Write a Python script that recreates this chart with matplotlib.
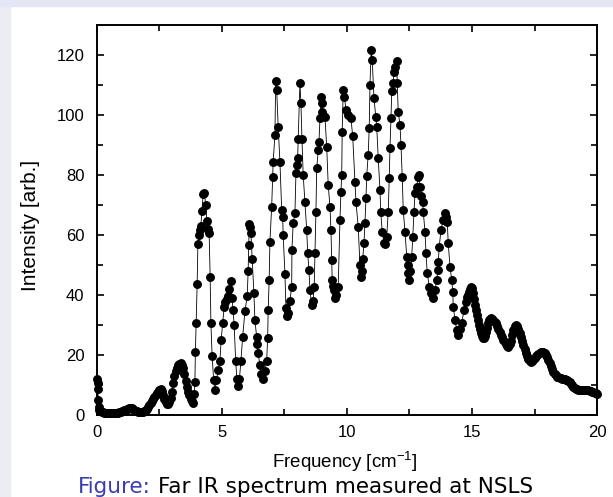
import matplotlib.pyplot as plt
from matplotlib.patches import Rectangle

# far IR spectrum
freq = [0.02, 0.03, 0.04, 0.06, 0.08, 0.1, 0.15, 0.2, 0.25, 0.3, 0.35, 0.4, 0.45, 0.5,
        0.55, 0.6, 0.65, 0.7, 0.75, 0.8, 0.85, 0.9, 0.95, 1.0, 1.05, 1.1, 1.15, 1.2, 1.25,
        1.3, 1.35, 1.4, 1.45, 1.5, 1.55, 1.6, 1.65, 1.7, 1.75, 1.8, 1.85, 1.9, 1.95, 2.0,
        2.05, 2.1, 2.15, 2.2, 2.25, 2.3, 2.35, 2.4, 2.45, 2.5, 2.55, 2.6, 2.65, 2.7, 2.75,
        2.8, 2.85, 2.9, 2.95, 3.0, 3.05, 3.1, 3.15, 3.2, 3.25, 3.3, 3.35, 3.4, 3.45, 3.5,
        3.55, 3.6, 3.65, 3.7, 3.75, 3.8, 3.85, 3.9, 3.92, 3.94, 3.97, 4.01, 4.04, 4.08,
        4.12, 4.16, 4.2, 4.25, 4.3, 4.35, 4.4, 4.45, 4.49, 4.53, 4.56, 4.61, 4.67, 4.72,
        4.78, 4.85, 4.92, 4.97, 5.03, 5.09, 5.14, 5.19, 5.25, 5.3, 5.36, 5.41, 5.45, 5.49,
        5.55, 5.6, 5.65, 5.7, 5.76, 5.83, 5.92, 6.01, 6.05, 6.07, 6.1, 6.13, 6.16, 6.21,
        6.28, 6.32, 6.39, 6.41, 6.45, 6.52, 6.58, 6.65, 6.72, 6.79, 6.83, 6.85, 6.89, 6.92,
        6.99, 7.03, 7.05, 7.12, 7.15, 7.19, 7.25, 7.32, 7.39, 7.43, 7.45, 7.52, 7.56, 7.61,
        7.65, 7.72, 7.79, 7.8, 7.85, 7.92, 7.96, 7.99, 8.03, 8.05, 8.12, 8.16, 8.2, 8.25,
        8.32, 8.39, 8.43, 8.48, 8.52, 8.59, 8.64, 8.69, 8.72, 8.76, 8.79, 8.85, 8.88, 8.92,
        8.96, 8.99, 9.01, 9.06, 9.12, 9.19, 9.25, 9.32, 9.36, 9.39, 9.41, 9.45, 9.49, 9.52,
        9.58, 9.65, 9.72, 9.76, 9.79, 9.81, 9.85, 9.9, 9.96, 10.05, 10.16, 10.23, 10.32,
        10.36, 10.45, 10.52, 10.55, 10.6, 10.63, 10.68, 10.72, 10.76, 10.79, 10.85, 10.89,
        10.92, 10.97, 11.01, 11.08, 11.15, 11.19, 11.25, 11.32, 11.35, 11.41, 11.48, 11.54,
        11.59, 11.65, 11.69, 11.72, 11.76, 11.79, 11.85, 11.88, 11.94, 11.99, 12.01, 12.05,
        12.12, 12.16, 12.21, 12.25, 12.32, 12.39, 12.43, 12.45, 12.47, 12.53, 12.59, 12.63,
        12.68, 12.72, 12.79, 12.85, 12.88, 12.92, 12.98, 13.03, 13.05, 13.12, 13.16, 13.21,
        13.29, 13.35, 13.43, 13.52, 13.59, 13.63, 13.65, 13.69, 13.76, 13.85, 13.92, 13.96,
        14.01, 14.05, 14.12, 14.19, 14.23, 14.25, 14.32, 14.39, 14.45, 14.52, 14.59, 14.68,
        14.74, 14.79, 14.82, 14.86, 14.9, 14.94, 14.98, 15.02, 15.06, 15.1, 15.14, 15.18,
        15.22, 15.26, 15.3, 15.34, 15.38, 15.42, 15.46, 15.5, 15.54, 15.58, 15.62, 15.66,
        15.7, 15.75, 15.8, 15.85, 15.9, 15.95, 16.0, 16.05, 16.1, 16.15, 16.2, 16.25, 16.3,
        16.35, 16.4, 16.45, 16.5, 16.55, 16.6, 16.65, 16.7, 16.75, 16.8, 16.85, 16.9, 16.95,
        17.0, 17.05, 17.1, 17.15, 17.2, 17.25, 17.3, 17.35, 17.4, 17.45, 17.5, 17.55, 17.6,
        17.65, 17.7, 17.75, 17.8, 17.85, 17.9, 17.95, 18.0, 18.05, 18.1, 18.15, 18.2, 18.25,
        18.3, 18.35, 18.4, 18.45, 18.5, 18.55, 18.6, 18.65, 18.7, 18.75, 18.8, 18.85, 18.9,
        18.95, 19.0, 19.05, 19.1, 19.15, 19.2, 19.25, 19.3, 19.35, 19.4, 19.45, 19.5, 19.55,
        19.6, 19.65, 19.7, 19.75, 19.8, 19.85, 19.9, 19.95, 20.0]

intensity = [12, 10.5, 8.5, 5, 2.5, 1.6, 1.2, 1.0, 0.9, 0.8, 0.7, 0.6, 0.5, 0.5,
             0.5, 0.5, 0.5, 0.6, 0.6, 0.7, 0.8, 0.9, 1.0, 1.2, 1.4, 1.6, 1.8, 2.0, 2.1,
             2.2, 2.3, 2.2, 2.0, 1.7, 1.4, 1.2, 1.0, 0.9, 0.9, 0.9, 1.0, 1.2, 1.5, 1.9,
             2.5, 3.2, 4.0, 4.8, 5.4, 6.0, 6.6, 7.2, 7.8, 8.3, 8.5, 8.0, 6.8, 5.3, 4.2,
             3.7, 3.6, 4.3, 5.8, 7.8, 10.5, 13, 14.8, 15.8, 16.5, 17, 17.3, 16.8, 15.7, 13.5,
             11.2, 9.3, 7.8, 6.6, 5.4, 4.5, 4.0, 7, 11, 21, 30.5, 43.5, 57, 60,
             61.5, 63, 68, 73.5, 74, 70, 64.5, 62, 60.5, 46, 30.5, 19.5, 11.7, 8.3,
             11.5, 15, 18, 25, 30.5, 36, 37.5, 38.5, 39.5, 42, 44.5, 39, 35, 30,
             18, 12, 9.5, 12, 18, 26, 34.5, 39.5, 48, 56.5, 63.5, 62.5, 60.5, 52,
             40.5, 31.5, 26, 23.5, 20.5, 16.5, 13.5, 12, 14.5, 18, 25.7, 35, 45, 57.8,
             69.4, 79.4, 84.4, 93.3, 111.4, 108.3, 96, 84.4, 68.3, 66, 60, 47, 35.6, 33,
             34, 38, 42.8, 55, 64, 67.2, 80.5, 83.3, 85.6, 92, 110.6, 104, 92, 80,
             71, 61.7, 54, 48.3, 41.7, 36.7, 38, 42.8, 54, 67.8, 82.2, 88.3, 91, 98.9,
             106, 104, 101, 100, 99.4, 89.4, 76.7, 69.4, 61.7, 51.7, 45, 43, 41.7, 39,
             40, 42.8, 65, 74.4, 80, 94.4, 108.3, 106, 101.7, 100, 98.9, 92.8, 77.8,
             71, 62.8, 50, 46, 48, 52, 57.2, 64, 72.2, 79.8, 86.7, 95.6,
             110, 121.7, 118.3, 105.6, 99.4, 96.1, 85.6, 75, 67.8, 61.1, 57.2, 57,
             59.4, 67.8, 78.9, 88.9, 98.9, 107.8, 110.6, 114.4, 116, 117.8, 110.6, 101,
             96.7, 90, 79.4, 68.3, 61.1, 52.8, 50, 47.2, 45, 48, 52.8, 59.4,
             67.8, 73.9, 76.1, 79.4, 80, 76.1, 73, 71, 67.8, 61.1, 54, 47.2,
             42.8, 40.6, 38.9, 41.7, 45, 48.3, 51.1, 56.1, 61.7, 65, 67.2, 66,
             64.4, 57.2, 49.4, 45, 41.1, 36.1, 31.7, 28.3, 26.7, 28.5, 30.6, 35,
             37.5, 39.4, 40, 41, 42, 42.5, 42.2, 40.5, 38.5, 36.8, 35, 33.2,
             31.5, 30, 28.5, 27.2, 26.2, 25.6, 25.5, 26.3, 27.5, 29, 30.5, 31.5,
             32.0, 32.2, 31.9, 31.5, 31.0, 30.5, 29.8, 28.8, 27.8, 26.8, 25.9, 25.0, 24.2,
             23.5, 23.0, 22.8, 23.5, 24.8, 26.5, 28.2, 29.5, 30.0, 29.5, 28.5, 27.2, 26.0,
             24.6, 23.3, 22.0, 20.8, 19.6, 18.6, 17.9, 17.7, 17.9, 18.4, 19.0, 19.6, 20.0,
             20.4, 20.7, 20.9, 21.0, 21.0, 20.6, 20.0, 19.2, 18.3, 17.2, 16.2, 15.2, 14.4,
             13.7, 13.2, 12.8, 12.5, 12.3, 12.2, 12.1, 12.0, 11.9, 11.8, 11.6, 11.3, 10.9,
             10.4, 9.9, 9.4, 9.0, 8.8, 8.6, 8.4, 8.3, 8.3, 8.3, 8.3, 8.3, 8.3,
             8.2, 8.2, 8.1, 8.0, 7.8, 7.5, 7.3, 7.2, 7.0]

xticks = [0, 5, 10, 15, 20]
yticks = [0, 20, 40, 60, 80, 100, 120]

plt.rcParams['font.family'] = ['Liberation Sans', 'DejaVu Sans']

fig = plt.figure(figsize=(6.13, 4.97), dpi=100)
fig.patch.set_facecolor('white')
# slide background strips
fig.patches.append(Rectangle((0, 0), 10 / 613, 1, transform=fig.transFigure,
                             color='#ececf3', zorder=0))
fig.patches.append(Rectangle((0, 1 - 6 / 497), 1, 6 / 497, transform=fig.transFigure,
                             color='#e4e6f6', zorder=0))

ax = fig.add_axes([0.158, 0.165, 0.816, 0.785])
ax.plot(freq, intensity, color='black', lw=0.6, marker='o', ms=5.4,
        mec='black', mfc='black', clip_on=False)

ax.set_xlim(0, 20)
ax.set_ylim(0, 130)
ax.set_xticks(xticks)
ax.set_yticks(yticks)
ax.set_xticks([2.5, 7.5, 12.5, 17.5], minor=True)
ax.set_yticks([10, 30, 50, 70, 90, 110, 130], minor=True)
ax.tick_params(which='both', direction='in', top=True, right=True, width=1.2)
ax.tick_params(which='major', length=5, labelsize=12)
ax.tick_params(which='minor', length=4)
ax.tick_params(axis='x', pad=7)
ax.tick_params(axis='y', pad=9)
for s in ax.spines.values():
    s.set_linewidth(1.4)

fig.text(31 / 613, 1 - 225 / 497, 'Intensity [arb.]', rotation=90,
         ha='center', va='center', fontsize=15)
fig.text(345 / 613, 1 - 462 / 497, 'Frequency [cm$^{\\mathregular{-1}}$]',
         ha='center', va='center', fontsize=13.5)

# beamer style caption
t1 = fig.text(78 / 613, 1 - 487 / 497, 'Figure:', color='#3b3bb3',
              fontsize=15.5, va='center', family='DejaVu Sans')
fig.canvas.draw()
bb = t1.get_window_extent()
fig.text(bb.x1 / 613 + 7 / 613, 1 - 487 / 497, 'Far IR spectrum measured at NSLS',
         color='black', fontsize=15.5, va='center', family='DejaVu Sans')

fig.savefig('out.png', dpi=100)
